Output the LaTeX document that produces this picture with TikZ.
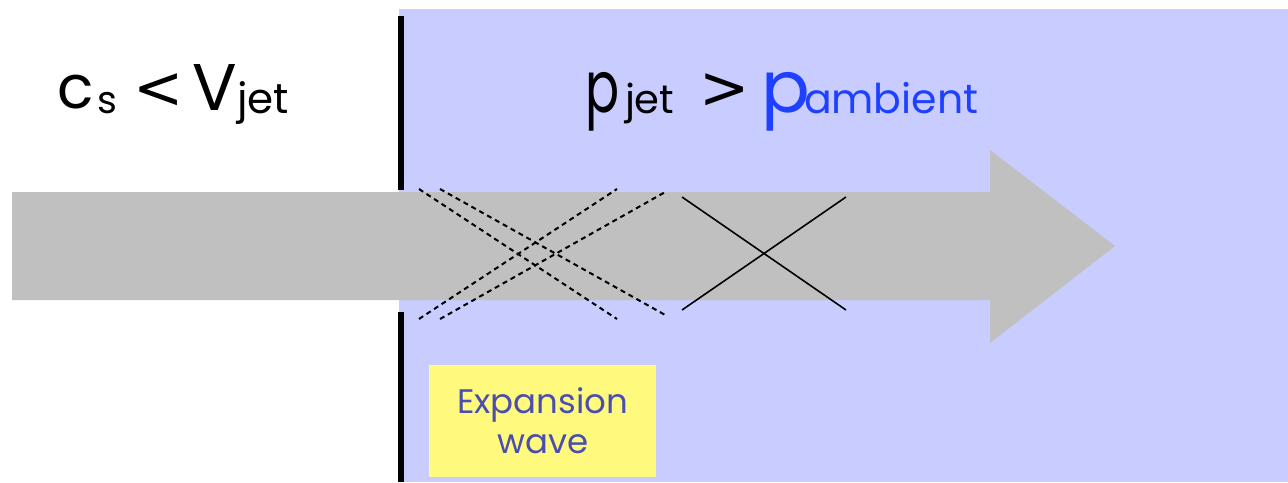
\documentclass[tikz,border=0pt]{standalone}
\usepackage{fontspec}
\setmainfont{Poppins}
\newfontfamily\symfont{DejaVu Sans}
\definecolor{ambientblue}{RGB}{200,204,255}
\definecolor{jetgray}{RGB}{192,192,192}
\definecolor{pblue}{RGB}{30,64,255}
\definecolor{notey}{RGB}{255,250,126}
\definecolor{notetext}{RGB}{74,79,175}
\newcommand{\fs}[1]{\fontsize{#1}{#1}\selectfont}
\begin{document}
\begin{tikzpicture}[x=1pt,y=-1pt,
  dashline/.style={black, line width=2pt, dash pattern=on 5pt off 4pt},
  xline/.style={black, line width=1.6pt},
  wall/.style={black, line width=6pt},
  label/.style={anchor=base west, inner sep=0pt, outer sep=0pt},
  notebox/.style={fill=notey, text=notetext, align=center, inner sep=0pt,
    minimum width=227pt, minimum height=112pt, font=\fontsize{34}{40}\selectfont}]
\useasboundingbox (0,0) rectangle (1288,482);
\fill[ambientblue] (399,9) rectangle (1288,482);
\fill[jetgray] (12,192) -- (990,192) -- (990,150) -- (1115,246) -- (990,343) -- (990,300) -- (12,300) -- cycle;
\coordinate (wt1) at (401,16);
\coordinate (wt2) at (401,190);
\coordinate (wb1) at (401,312);
\coordinate (wb2) at (401,482);
\draw[wall] (wt1) -- (wt2);
\draw[wall] (wb1) -- (wb2);
% expansion wave (dashed)
\coordinate (d1a) at (419,189); \coordinate (d1b) at (617,319);
\coordinate (d2a) at (440,189); \coordinate (d2b) at (667,316);
\coordinate (d3a) at (419,319); \coordinate (d3b) at (617,189);
\coordinate (d4a) at (440,319); \coordinate (d4b) at (667,191);
\draw[dashline] (d1a) -- (d1b);
\draw[dashline] (d2a) -- (d2b);
\draw[dashline] (d3a) -- (d3b);
\draw[dashline] (d4a) -- (d4b);
% shock (solid)
\coordinate (s1a) at (682,197); \coordinate (s1b) at (846,310);
\coordinate (s2a) at (682,310); \coordinate (s2b) at (846,197);
\draw[xline] (s1a) -- (s1b);
\draw[xline] (s2a) -- (s2b);
% left label: c_s < V_jet
\node[label, font=\fs{60}] (cc) at (57,108) {c};
\node[label, font=\fs{38}] (cs) at (97,113) {s};
\node[label, font=\symfont\fs{60}] (lt) at (133,108) {<};
\node[label, font=\fs{66}] (cv) at (192,110) {V};
\node[label, font=\fs{42}] (cj) at (237,113) {jet};
% right label: p_jet > p_ambient
\node[label, font=\fs{72}] (pp) at (585,112) {\scalebox{0.7}[1]{p}};
\node[label, font=\fs{40}] (pj) at (625,113) {jet};
\node[label, font=\symfont\fs{60}] (gt) at (699,108) {>};
\node[label, font=\fs{72}, text=pblue] (pa) at (761,112) {p};
\node[label, font=\fs{41}, text=pblue] (pam) at (804,113) {ambient};
\node[notebox, anchor=north west] (note) at (429,365) {Expansion\\wave};
\end{tikzpicture}
\end{document}
